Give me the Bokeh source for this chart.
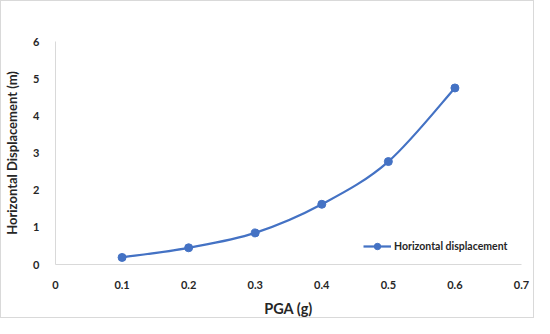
from bokeh.plotting import figure
from bokeh.models import Range1d, FixedTicker, Legend, LegendItem
from bokeh.embed import file_html
from bokeh.resources import INLINE

pga = [0.1, 0.2, 0.3, 0.4, 0.5, 0.6]
disp = [0.19, 0.45, 0.85, 1.62, 2.77, 4.75]
x_ticks = [0, 0.1, 0.2, 0.3, 0.4, 0.5, 0.6, 0.7]
y_ticks = [0, 1, 2, 3, 4, 5, 6]
series_name = "Horizontal displacement"

FONT = "Lato"
BLUE = "#4472C4"

p = figure(width=534, height=318, output_backend="svg", toolbar_location=None,
           x_range=Range1d(0, 0.7), y_range=Range1d(0, 6),
           min_border_left=52, min_border_right=14, min_border_top=40, min_border_bottom=49)
p.styles = {"border": "1px solid #d9d9d9"}
p.outline_line_color = None
p.grid.visible = False

# smooth (Excel-like) curve as cubic Bezier segments through the data points
n = len(pga)
x0, y0, x1, y1, cx0, cy0, cx1, cy1 = [], [], [], [], [], [], [], []
for i in range(n - 1):
    pm = (pga[max(i - 1, 0)], disp[max(i - 1, 0)])
    pa = (pga[i], disp[i])
    pb = (pga[i + 1], disp[i + 1])
    pn = (pga[min(i + 2, n - 1)], disp[min(i + 2, n - 1)])
    x0.append(pa[0]); y0.append(pa[1]); x1.append(pb[0]); y1.append(pb[1])
    cx0.append(pa[0] + (pb[0] - pm[0]) / 6); cy0.append(pa[1] + (pb[1] - pm[1]) / 6)
    cx1.append(pb[0] - (pn[0] - pa[0]) / 6); cy1.append(pb[1] - (pn[1] - pa[1]) / 6)
p.bezier(x0=x0, y0=y0, x1=x1, y1=y1, cx0=cx0, cy0=cy0, cx1=cx1, cy1=cy1,
         line_color=BLUE, line_width=2.25)
# single-point proxy line used only for the legend swatch (draws nothing on the chart)
leg_line = p.line([pga[0]], [disp[0]], line_color=BLUE, line_width=2.25)
pts = p.scatter(pga, disp, size=8, fill_color=BLUE, line_color=BLUE)

legend = Legend(items=[LegendItem(label=series_name, renderers=[leg_line, pts])],
                location=(308, 10), orientation="horizontal",
                border_line_color=None, background_fill_alpha=0,
                padding=0, margin=0, glyph_width=28, glyph_height=16, label_standoff=3,
                label_text_font=FONT, label_text_font_style="bold",
                label_text_font_size="10.5px", label_text_color="#262626")
p.add_layout(legend)

for ax in (p.xaxis[0], p.yaxis[0]):
    ax.axis_line_color = "#d9d9d9"
    ax.axis_line_width = 1
    ax.major_tick_line_color = None
    ax.minor_tick_line_color = None
    ax.major_label_text_font = FONT
    ax.major_label_text_font_style = "bold"
    ax.major_label_text_font_size = "11px"
    ax.major_label_text_color = "#262626"
    ax.axis_label_text_font = FONT
    ax.axis_label_text_font_style = "bold"
    ax.axis_label_text_color = "#262626"

p.xaxis.axis_label_text_font_size = "14.5px"
p.yaxis.axis_label_text_font_size = "13px"
p.xaxis.ticker = FixedTicker(ticks=x_ticks)
p.yaxis.ticker = FixedTicker(ticks=y_ticks)
p.xaxis.major_label_overrides = {0: "0"}
p.xaxis.major_label_standoff = 10
p.yaxis.major_label_standoff = 10
p.xaxis.axis_label = "PGA (g)"
p.yaxis.axis_label = "Horizontal Displacement (m)"
p.xaxis.axis_label_standoff = 8
p.yaxis.axis_label_standoff = 10

open("out.html", "w").write(file_html(p, INLINE))
